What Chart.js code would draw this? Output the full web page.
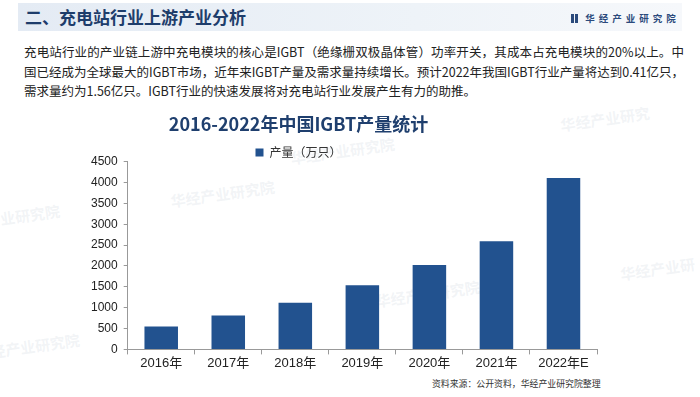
<!DOCTYPE html>
<html>
<head>
<meta charset="utf-8">
<script src="https://cdn.jsdelivr.net/npm/chart.js@4"></script>
<style>
  html, body { margin: 0; padding: 0; background: #fff; }
  body { width: 700px; height: 397px; position: relative; overflow: hidden; font-family: "Noto Sans CJK SC", sans-serif; }
  .band { position: absolute; left: 18px; top: 3px; width: 664px; height: 28px;
          background: linear-gradient(90deg, #e4ebf4 0%, #eef3f8 60%, #f6f8fb 100%); }
  .h1 { position: absolute; left: 25px; top: 4px; font-size: 17px; font-weight: bold; color: #1e3d6b; line-height: 26px; }
  .logo { position: absolute; left: 571px; top: 11px; font-size: 9.5px; font-weight: bold; color: #2b4a7c; letter-spacing: 4px; line-height: 14px; }
  .logo i { display: inline-block; width: 3px; height: 9px; background: #2b4a7c; margin-right: 1px; vertical-align: -1px; }
  .para { position: absolute; left: 24px; top: 42px; width: 660px; font-size: 12.5px; color: #222; line-height: 19.5px; }
  .para div { white-space: nowrap; text-align: justify; text-align-last: justify; }
  .para div.last { text-align-last: left; }
  .src { position: absolute; left: 432px; top: 377px; font-size: 8.9px; color: #333; white-space: nowrap; }
  .wm { position: absolute; font-size: 15px; font-weight: bold; color: rgba(190,198,212,0.2); transform: rotate(-8deg); white-space: nowrap; }
  .wrap { position: absolute; left: 0; top: 105px; width: 690px; height: 267px; }
</style>
</head>
<body>
<div class="band"></div>
<div class="h1">二、充电站行业上游产业分析</div>
<div class="logo"><i></i><i></i> 华经产业研究院</div>
<div class="para">
  <div>充电站行业的产业链上游中充电模块的核心是IGBT（绝缘栅双极晶体管）功率开关，其成本占充电模块的20%以上。中</div>
  <div>国已经成为全球最大的IGBT市场，近年来IGBT产量及需求量持续增长。预计2022年我国IGBT行业产量将达到0.41亿只，</div>
  <div class="last">需求量约为1.56亿只。IGBT行业的快速发展将对充电站行业发展产生有力的助推。</div>
</div>
<div class="wm" style="left:170px; top:183px;">华经产业研究院</div>
<div class="wm" style="left:290px; top:140px;">华经产业研究院</div>
<div class="wm" style="left:560px; top:108px;">华经产业研究</div>
<div class="wm" style="left:-15px; top:205px;">产业研究院</div>
<div class="wm" style="left:620px; top:258px;">华经产业研</div>
<div class="wm" style="left:375px; top:283px;">华经产业研究院</div>
<div class="wm" style="left:-10px; top:335px;">经产业研究院</div>
<div class="wrap"><canvas id="c"></canvas></div>
<div class="src">资料来源：公开资料，华经产业研究院整理</div>
<script>
const categories = ["2016年", "2017年", "2018年", "2019年", "2020年", "2021年", "2022年E"];
const production = [550, 810, 1120, 1540, 2020, 2590, 4110];
const seriesName = "产量（万只）";
const chartTitle = "2016-2022年中国IGBT产量统计";
const yTicks = [0, 500, 1000, 1500, 2000, 2500, 3000, 3500, 4000, 4500];

const legendShrink = {
  id: "legendShrink",
  beforeLayout(chart) {
    const lg = chart.legend;
    if (lg && !lg._shrunk) {
      const orig = lg.fit;
      lg.fit = function () { orig.call(this); this.height -= 7; };
      lg._shrunk = true;
    }
  }
};

new Chart(document.getElementById("c"), {
  type: "bar",
  data: {
    labels: categories,
    datasets: [{
      label: seriesName,
      data: production,
      backgroundColor: "#22528f",
      borderWidth: 0,
      barPercentage: 0.5,
      categoryPercentage: 1.0
    }]
  },
  plugins: [legendShrink],
  options: {
    responsive: true,
    maintainAspectRatio: false,
    animation: false,
    layout: { padding: { left: 0, right: 93, top: 0, bottom: 0 } },
    plugins: {
      title: {
        display: true,
        text: chartTitle,
        color: "#1f3f6e",
        font: { family: "'Noto Sans CJK SC', sans-serif", size: 18, weight: "bold" },
        padding: { top: 8, bottom: 6 }
      },
      legend: {
        display: true,
        labels: {
          boxWidth: 8, boxHeight: 8,
          color: "#333",
          font: { family: "'Noto Sans CJK SC', sans-serif", size: 12 },
          padding: 6
        }
      },
      tooltip: { enabled: false }
    },
    scales: {
      x: {
        grid: { display: true, drawOnChartArea: false, drawTicks: true, tickLength: 5, color: "#999", offset: true },
        border: { display: true, color: "#999" },
        ticks: { color: "#222", font: { family: "'Liberation Sans', 'Noto Sans CJK SC', sans-serif", size: 13 }, padding: 1, maxRotation: 0 }
      },
      y: {
        min: 0, max: 4500,
        afterBuildTicks: (s) => { s.ticks = yTicks.map(v => ({ value: v })); },
        afterFit: (s) => { s.width = 127.7; },
        grid: { display: true, drawOnChartArea: false, drawTicks: true, tickLength: 4, color: "#999" },
        border: { display: true, color: "#999" },
        ticks: { color: "#222", font: { family: "'Liberation Sans', sans-serif", size: 12 }, padding: 6,
                 callback: (v) => String(v) }
      }
    }
  }
});
</script>
</body>
</html>
